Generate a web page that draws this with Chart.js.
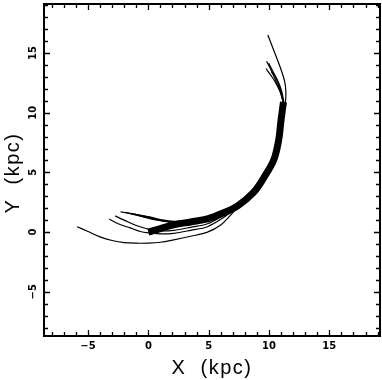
<!DOCTYPE html>
<html>
<head>
<meta charset="utf-8">
<script src="https://cdn.jsdelivr.net/npm/chart.js@4.4.1/dist/chart.umd.min.js"></script>
<style>
  html, body { margin: 0; padding: 0; background: #fff; }
  #wrap { width: 382px; height: 380px; }
</style>
</head>
<body>
<div id="wrap"><canvas id="chart" width="382" height="380"></canvas></div>
<script>
// axis ticks (labelled)
const xTicks = [-5, 0, 5, 10, 15];
const yTicks = [-5, 0, 5, 10, 15];

// thick bundle where most arm tracks overlap
const band = [[0, 0], [1, 0.3], [2.1, 0.6], [3.5, 0.85], [4.9, 1.1], [6.2, 1.6], [7.4, 2.2], [8.7, 3.3], [9.6, 4.6], [10.4, 6.05], [10.8, 7.7], [11.0, 9.4], [11.2, 10.9]];

// tracks that leave the bundle at the inner (lower left) end
const arm1 = [[-5.9, 0.45], [-5, 0.05], [-4, -0.4], [-3, -0.7], [-2, -0.88], [-1, -0.93], [0, -0.92], [1, -0.85], [2.1, -0.65], [3.5, -0.35], [4.9, 0], [6, 0.6], [6.8, 1.4], [7.4, 2.1], [8.7, 3.3]];
const arm2 = [[-3.25, 1.1], [-2.5, 0.7], [-1.5, 0.35], [-0.67, 0.05], [0.2, -0.08], [1, -0.15], [2.1, -0.1], [3.5, 0.15], [4.9, 0.45], [6.2, 1.2], [7.4, 2.1]];
const arm3 = [[-2.75, 1.36], [-2, 1.0], [-1, 0.55], [0.2, 0.2], [1, 0.1], [2.1, 0.15], [3.5, 0.4], [4.9, 0.7], [6.2, 1.4], [7.4, 2.15]];
const arm4 = [[-2.3, 1.7], [-1.2, 1.5], [0.2, 1.25], [1, 1.05], [2.1, 0.9], [3.5, 1.0], [4.9, 1.25]];
const arm5 = [[-1.9, 1.65], [-0.8, 1.4], [0.2, 1.15], [1, 0.98], [2.1, 0.85], [3.5, 0.95]];
const arm6 = [[-1.5, 1.55], [-0.5, 1.3], [0.5, 1.05], [2.1, 0.8], [3.5, 0.9]];
const arm7 = [[-1.1, 1.5], [0, 1.25], [1, 1.0], [2.1, 0.78]];

// tracks that leave the bundle at the outer (upper) end
const up1 = [[10.8, 7.7], [11.1, 9.4], [11.35, 10.8], [11.4, 11.7], [11.3, 12.6], [11.0, 13.6], [10.4, 15.2], [9.9, 16.5]];
const up2 = [[11.2, 10.8], [10.95, 11.8], [10.6, 12.6], [10.2, 13.5], [9.8, 14.3]];
const up3 = [[11.2, 10.8], [11.0, 11.8], [10.7, 12.6], [10.35, 13.4], [9.97, 14.15]];
const up4 = [[11.2, 10.8], [10.9, 11.8], [10.5, 12.6], [10.1, 13.2], [9.75, 13.7]];
const up5 = [[11.25, 10.8], [11.05, 11.8], [10.8, 12.5], [10.5, 13.1], [10.2, 13.4]];

const thinTracks = [arm1, arm2, arm3, arm4, arm5, arm6, arm7, up1, up2, up3, up4, up5];

function toPoints(arr) {
  return arr.map(p => ({ x: p[0], y: p[1] }));
}

const datasets = thinTracks.map(t => ({
  data: toPoints(t),
  showLine: true,
  borderColor: '#000',
  borderWidth: 1.2,
  pointRadius: 0,
  tension: 0.35,
  fill: false
}));
datasets.push({
  data: toPoints(band),
  showLine: true,
  borderColor: '#000',
  borderWidth: 7,
  pointRadius: 0,
  tension: 0.35,
  fill: false
});

const LABEL_FONT = 'bold 10px "DejaVu Sans", sans-serif';
const TITLE_FONT = '20px "Liberation Sans", sans-serif';

// frame with inward ticks on all sides, rotated y labels, spaced titles
const framePlugin = {
  id: 'frame',
  afterDatasetsDraw(chart) {
    const ctx = chart.ctx;
    const a = chart.chartArea;
    const xs = chart.scales.x;
    const ys = chart.scales.y;
    ctx.save();
    ctx.strokeStyle = '#000';
    ctx.lineWidth = 2;
    ctx.strokeRect(a.left, a.top, a.right - a.left, a.bottom - a.top);

    ctx.lineWidth = 1.3;
    ctx.beginPath();
    for (let v = Math.ceil(xs.min); v <= Math.floor(xs.max); v++) {
      const px = Math.round(xs.getPixelForValue(v)) + 0.5;
      const len = v % 5 === 0 ? 6 : 4;
      ctx.moveTo(px, a.bottom); ctx.lineTo(px, a.bottom - len);
      ctx.moveTo(px, a.top); ctx.lineTo(px, a.top + len);
    }
    for (let v = Math.ceil(ys.min); v <= Math.floor(ys.max); v++) {
      const py = Math.round(ys.getPixelForValue(v)) + 0.5;
      const len = v % 5 === 0 ? 6 : 4;
      ctx.moveTo(a.left, py); ctx.lineTo(a.left + len, py);
      ctx.moveTo(a.right, py); ctx.lineTo(a.right - len, py);
    }
    ctx.stroke();

    ctx.fillStyle = '#000';
    ctx.font = LABEL_FONT;
    ctx.textAlign = 'center';
    ctx.textBaseline = 'middle';
    xTicks.forEach(v => {
      ctx.fillText(String(v).replace('-', '\u2212'), xs.getPixelForValue(v), a.bottom + 10);
    });
    yTicks.forEach(v => {
      ctx.save();
      ctx.translate(a.left - 11, ys.getPixelForValue(v));
      ctx.rotate(-Math.PI / 2);
      ctx.fillText(String(v).replace('-', '\u2212'), 0, 0);
      ctx.restore();
    });

    ctx.font = TITLE_FONT;
    ctx.letterSpacing = '1.5px';
    ctx.fillText('X  (kpc)', (a.left + a.right) / 2, a.bottom + 32);
    ctx.save();
    ctx.translate(a.left - 31, (a.top + a.bottom) / 2 + 3);
    ctx.rotate(-Math.PI / 2);
    ctx.fillText('Y  (kpc)', 0, 0);
    ctx.restore();
    ctx.restore();
  }
};

new Chart(document.getElementById('chart').getContext('2d'), {
  type: 'scatter',
  data: { datasets: datasets },
  options: {
    responsive: false,
    animation: false,
    devicePixelRatio: 1,
    layout: { padding: { top: 4, right: 2, left: 0, bottom: 0 } },
    plugins: { legend: { display: false }, tooltip: { enabled: false } },
    scales: {
      x: {
        type: 'linear',
        min: -8.65,
        max: 19.2,
        ticks: { display: false },
        grid: { display: false },
        border: { display: false },
        afterFit: s => { s.height = 44; }
      },
      y: {
        type: 'linear',
        min: -8.7,
        max: 19.1,
        ticks: { display: false },
        grid: { display: false },
        border: { display: false },
        afterFit: s => { s.width = 44; }
      }
    }
  },
  plugins: [framePlugin]
});
</script>
</body>
</html>
